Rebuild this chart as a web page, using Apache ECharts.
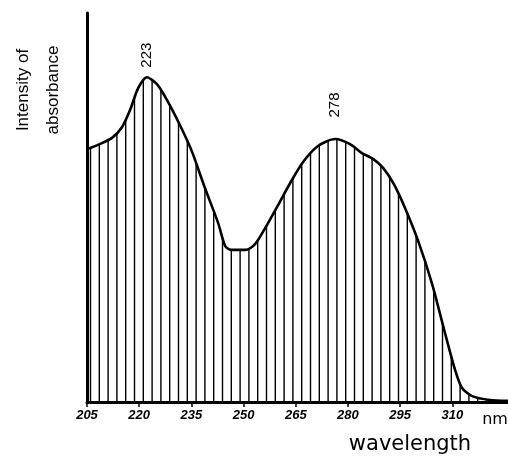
<!DOCTYPE html>
<html>
<head>
<meta charset="utf-8">
<script src="https://cdn.jsdelivr.net/npm/echarts@6/dist/echarts.min.js"></script>
<style>
  html, body { margin: 0; padding: 0; background: #fff; }
  #chart { width: 508px; height: 457px; }
</style>
</head>
<body>
<div id="chart"></div>
<script>
// wavelength (nm)
const wavelength = [205, 208.7, 212.2, 215.1, 217.4, 219.7, 222.2, 225.1, 228, 231.7,
  235.2, 238.9, 242.7, 244.7, 246.4, 250.7, 253.3, 256.2, 259.9, 263.4,
  267.1, 271.4, 276.3, 280.6, 284, 287.2, 290.1, 293.2, 296.4, 300.1,
  304.2, 307.9, 310.8, 312.8, 315.7, 320.8, 326];
// intensity of absorbance (arbitrary units, 0-100)
const absorbance = [65, 66.3, 67.9, 70.7, 75.1, 80.7, 83.5, 81.7, 77.6, 71.2,
  64.3, 55, 46, 40.1, 39.1, 39.1, 40.6, 44.7, 50.6, 56.3,
  61.7, 65.8, 67.6, 66.3, 64, 62.5, 60.2, 56, 49.9, 41.6,
  30.3, 17.7, 8.2, 3.6, 1.5, 0.5, 0.3];
// x axis tick labels
const tickValues = [205, 220, 235, 250, 265, 280, 295, 310];
// peak annotations
const peakNames = ['223', '278'];
const peakX = [222.2, 276.3];
const peakY = [83.5, 67.6];
const peakLift = [-22, -34];

// vertical hatching pattern
const tile = document.createElement('canvas');
tile.width = 44;
tile.height = 10;
const ctx = tile.getContext('2d');
ctx.fillStyle = '#000';
for (let i = 0; i < 5; i++) {
  ctx.fillRect(1.8 + i * 8.8, 0, 1.4, 10);
}

const chart = echarts.init(document.getElementById('chart'));

chart.setOption({
  backgroundColor: '#fff',
  animation: false,
  grid: { left: 87, right: 0, top: 13, bottom: 55 },
  xAxis: {
    type: 'value',
    min: 205,
    max: 326,
    axisLine: { lineStyle: { color: '#000', width: 3 } },
    axisTick: {
      customValues: tickValues,
      length: 5,
      lineStyle: { color: '#000', width: 1.5 }
    },
    axisLabel: {
      customValues: tickValues,
      color: '#000',
      margin: 7,
      fontFamily: 'Liberation Sans',
      fontStyle: 'italic',
      fontWeight: 'bold',
      fontSize: 13
    },
    splitLine: { show: false }
  },
  yAxis: {
    type: 'value',
    min: 0,
    max: 100,
    axisLine: { show: true, lineStyle: { color: '#000', width: 3 } },
    axisTick: { show: false },
    axisLabel: { show: false },
    splitLine: { show: false }
  },
  series: [{
    type: 'line',
    data: wavelength.map((w, i) => [w, absorbance[i]]),
    smooth: 0.25,
    symbol: 'none',
    lineStyle: { color: '#000', width: 2.6 },
    areaStyle: { color: { image: tile, repeat: 'repeat' }, opacity: 1 },
    markPoint: {
      symbol: 'circle',
      symbolSize: 1,
      itemStyle: { color: 'rgba(0,0,0,0)' },
      label: {
        show: true,
        position: 'inside',
        rotate: 90,
        color: '#000',
        fontFamily: 'Liberation Sans',
        fontSize: 15,
        formatter: p => p.name
      },
      data: peakNames.map((n, i) => ({
        name: n,
        coord: [peakX[i], peakY[i]],
        symbolOffset: [0, peakLift[i]]
      }))
    }
  }],
  graphic: [
    {
      type: 'text',
      x: 38, y: 90,
      rotation: Math.PI / 2,
      style: {
        text: 'Intensity of\nabsorbance',
        fill: '#000',
        font: '17px "Liberation Sans"',
        lineHeight: 30,
        align: 'center',
        verticalAlign: 'middle'
      }
    },
    {
      type: 'text',
      x: 495, y: 420,
      style: {
        text: 'nm',
        fill: '#000',
        font: '16px "DejaVu Sans"',
        align: 'center',
        verticalAlign: 'middle'
      }
    },
    {
      type: 'text',
      x: 410, y: 445,
      style: {
        text: 'wavelength',
        fill: '#000',
        font: '21px "DejaVu Sans"',
        align: 'center',
        verticalAlign: 'middle'
      }
    }
  ]
});
</script>
</body>
</html>
